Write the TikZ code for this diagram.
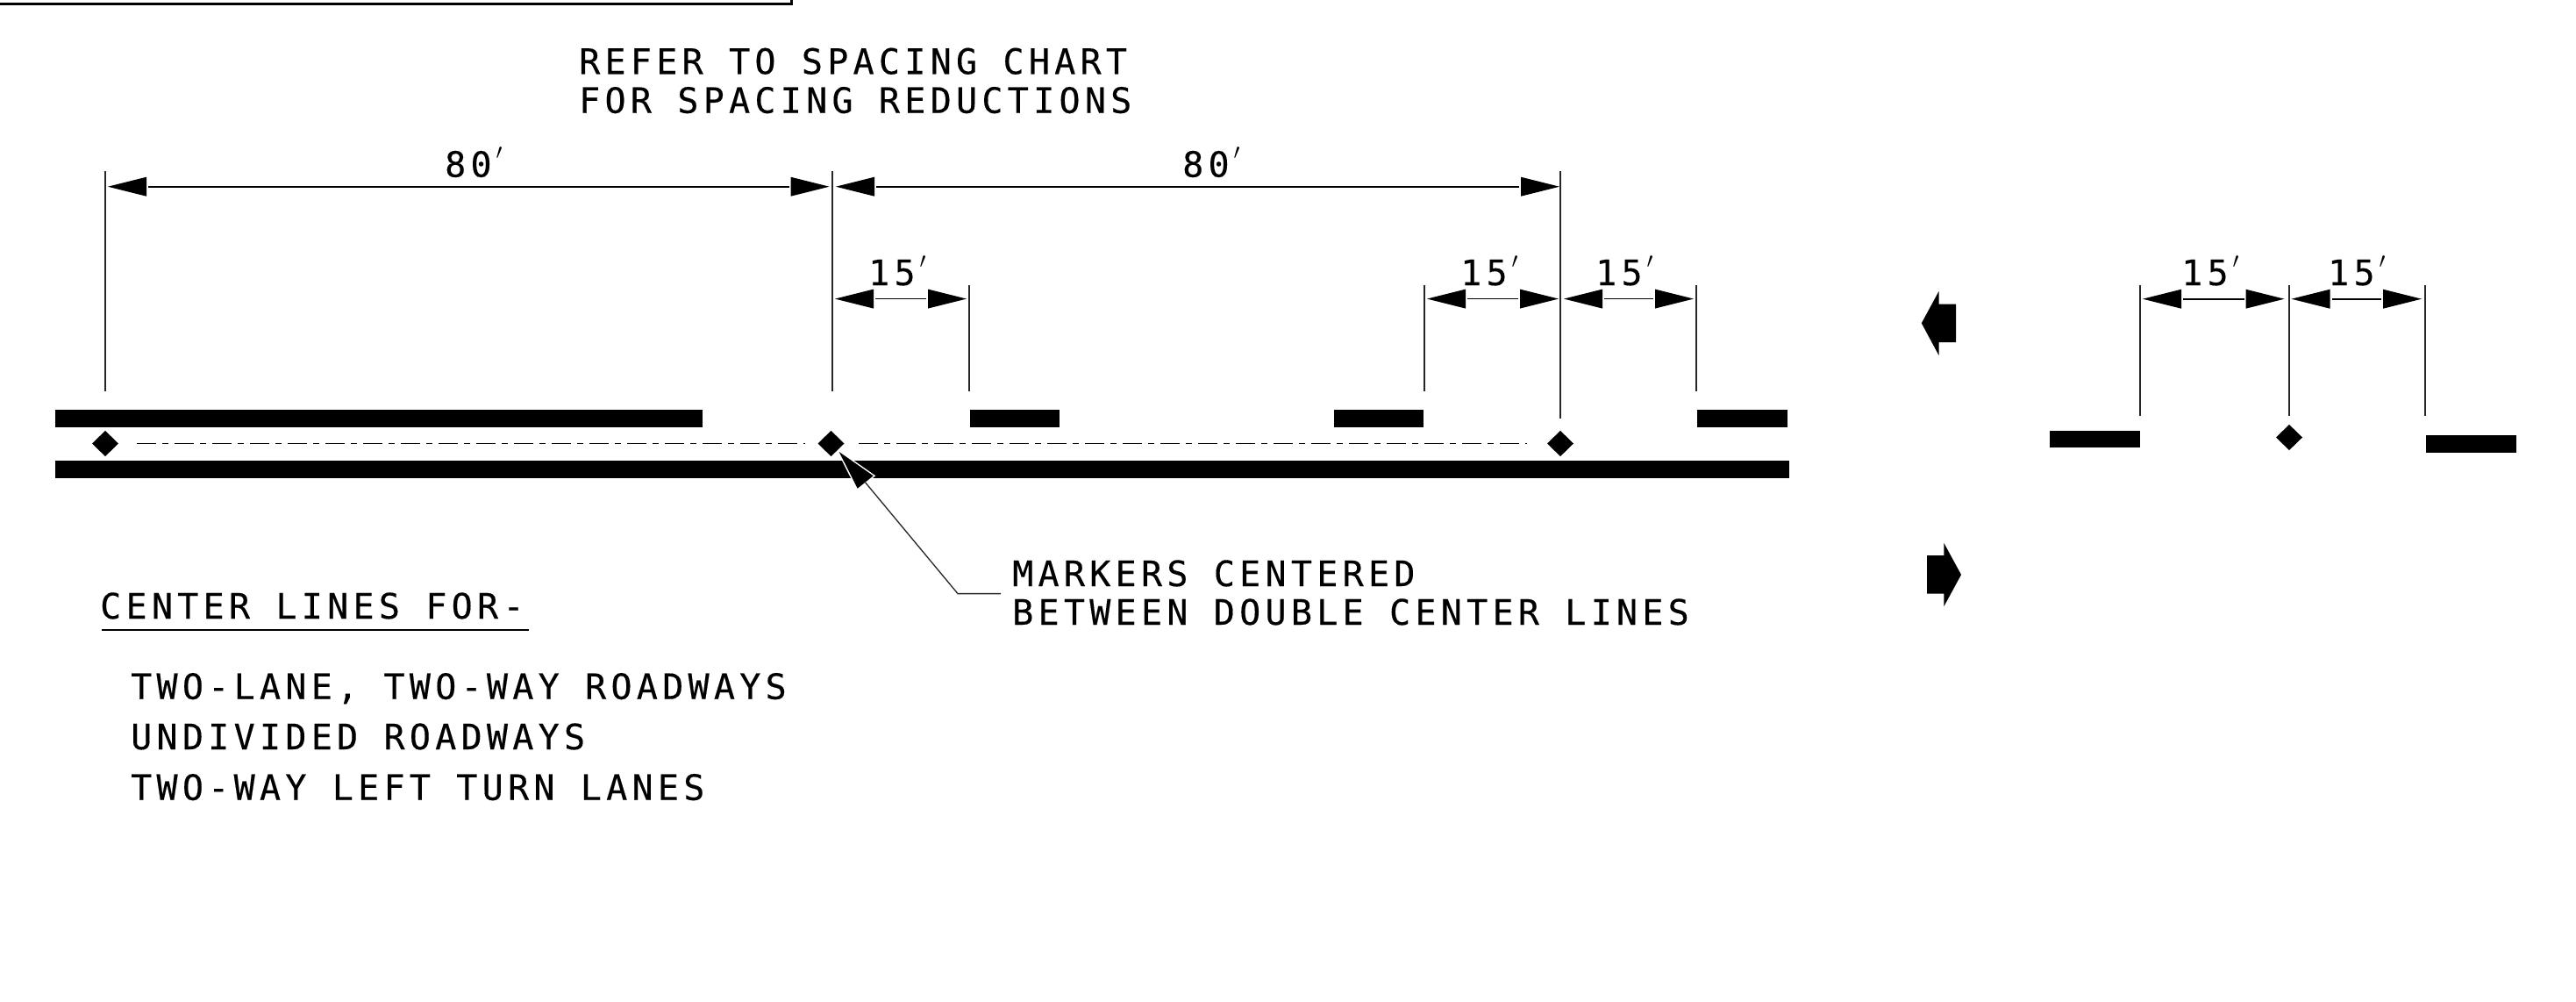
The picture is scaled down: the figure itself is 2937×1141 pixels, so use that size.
\documentclass[tikz,border=0pt]{standalone}
\usepackage{fontspec}
\newfontfamily\cadfont[LetterSpace=13.2,FakeBold=0.3]{DejaVu Sans Mono}
\begin{document}
\begin{tikzpicture}[x=1pt,y=-1pt,
  thinline/.style={line width=1.3pt,draw=black!85},
  dimline/.style={line width=1.6pt,draw=black},
  cadlabel/.style={inner sep=0pt,anchor=base west,font=\cadfont\fontsize{40}{40}\selectfont},
  dimtext/.style={inner sep=0pt,anchor=base west,font=\cadfont\fontsize{40}{40}\selectfont},
  centerdash/.style={line width=1.7pt,draw=black,dash pattern=on 22pt off 7pt on 7pt off 7pt}]
\useasboundingbox (0,0) rectangle (2937,1141);
\fill[white] (0,0) rectangle (2937,1141);
% frame
\draw[line width=3pt] (0,4) -- (902,4) -- (902,0);
% named points
\coordinate (a1) at (120,195); \coordinate (a1b) at (120,446);
\coordinate (a2) at (949,195); \coordinate (a2b) at (949,446);
\coordinate (a3) at (1779,195); \coordinate (a3b) at (1779,477);
\coordinate (b1) at (1105,325); \coordinate (b1b) at (1105,446);
\coordinate (b2) at (1624,325); \coordinate (b2b) at (1624,446);
\coordinate (b3) at (1934,325); \coordinate (b3b) at (1934,446);
\coordinate (c1) at (2440,325); \coordinate (c1b) at (2440,474);
\coordinate (c2) at (2610,325); \coordinate (c2b) at (2610,474);
\coordinate (c3) at (2765,325); \coordinate (c3b) at (2765,474);
\foreach \p in {a1,a2,a3,b1,b2,b3,c1,c2,c3}{\draw[thinline] (\p) -- (\p b);}
% arrowheads
\newcommand{\larrow}[2]{\fill (#1,#2) -- (#1+44,#2-11) -- (#1+44,#2+11) -- cycle;}
\newcommand{\rarrow}[2]{\fill (#1,#2) -- (#1-44,#2-11) -- (#1-44,#2+11) -- cycle;}
\newcommand{\dimspan}[3]{\larrow{#1}{#3}\rarrow{#2}{#3}\draw[dimline] (#1+46,#3) -- (#2-46,#3);}
\dimspan{123}{945.5}{212.7}
\dimspan{953}{1778}{212.7}
\dimspan{952}{1102}{340.6}
\dimspan{1627}{1777}{340.6}
\dimspan{1783}{1931}{340.6}
\dimspan{2443}{2604.5}{340.7}
\dimspan{2612.5}{2761}{340.7}
% dimension texts
\newcommand{\primesym}{\hspace{5pt}\raisebox{20pt}{$\prime$}}
\node[dimtext] (t80a) at (507,201.6) {80\primesym};
\node[dimtext] (t80b) at (1348,201.6) {80\primesym};
\node[dimtext] (t15a) at (990,325) {15\primesym};
\node[dimtext] (t15b) at (1665,325) {15\primesym};
\node[dimtext] (t15c) at (1819,325) {15\primesym};
\node[dimtext] (t15d) at (2487,325) {15\primesym};
\node[dimtext] (t15e) at (2654,325) {15\primesym};
% pavement markings
\fill (63,467) rectangle (801,486.5);
\fill (63,524.6) rectangle (2040,544.6);
\fill (1106,467) rectangle (1208,486.5);
\fill (1520.5,467) rectangle (1623,486.5);
\fill (1935,467) rectangle (2038,486.5);
\fill (2336.5,490.7) rectangle (2439.6,510);
\fill (2766,496) rectangle (2869,516);
% layout lines
\draw[centerdash] (156,505.4) -- (917.6,505.4);
\draw[centerdash] (979,505.4) -- (1741,505.4);
% leader
\filldraw[draw=white,line width=3pt,fill=black,line join=miter] (956.7,515) -- (977.7,556.7) -- (995.7,542.3) -- cycle;
\fill (956.7,515) -- (977.7,556.7) -- (995.7,542.3) -- cycle;
\draw[thinline] (986.7,550) -- (1092,676.6) -- (1141,676.6);
% markers
\foreach \x/\y in {120/505.5,947.5/505.5,1779/505.5,2610/498.5}{\fill (\x-15,\y) -- (\x,\y-14.6) -- (\x+15,\y) -- (\x,\y+14.6) -- cycle;}
% direction arrows
\fill (2190.8,368.3) -- (2210.5,332) -- (2210.5,346.7) -- (2230,346.7) -- (2230,390) -- (2210.5,390) -- (2210.5,405) -- cycle;
\fill (2236,655) -- (2216.4,619) -- (2216.4,633) -- (2197,633) -- (2197,676.7) -- (2216.4,676.7) -- (2216.4,691) -- cycle;
% texts
\node[cadlabel] (refer) at (660,84.3) {REFER TO SPACING CHART};
\node[cadlabel] (for) at (660,128.7) {FOR SPACING REDUCTIONS};
\node[cadlabel] (mark) at (1154,668) {MARKERS CENTERED};
\node[cadlabel] (betw) at (1154,712) {BETWEEN DOUBLE CENTER LINES};
\node[cadlabel] (cl) at (114,705) {CENTER LINES FOR-};
\draw[line width=1.5pt] (115.7,718) -- (603,718);
\node[cadlabel] (l1) at (149,796.7) {TWO-LANE, TWO-WAY ROADWAYS};
\node[cadlabel] (l2) at (149,854) {UNDIVIDED ROADWAYS};
\node[cadlabel] (l3) at (149,911.7) {TWO-WAY LEFT TURN LANES};
\end{tikzpicture}
\end{document}
